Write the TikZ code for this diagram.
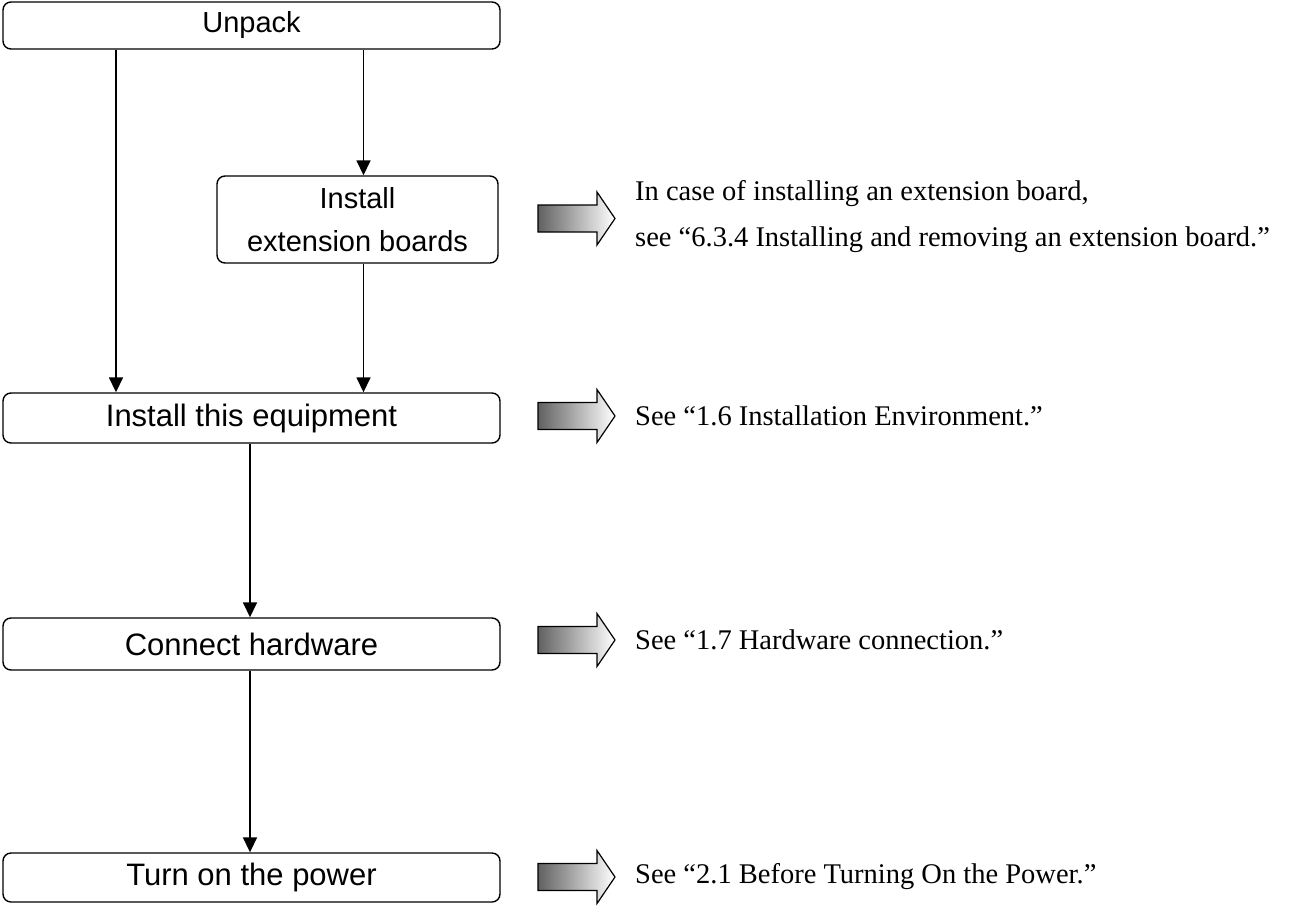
\documentclass[tikz,border=0pt]{standalone}
\usepackage{fontspec}
\setmainfont{Liberation Serif}
\setsansfont{Liberation Sans}
\usetikzlibrary{arrows.meta}
\begin{document}
\begin{tikzpicture}[x=1pt,y=-1pt,
  box/.style={draw, line width=1.4pt, rounded corners=8pt, inner sep=0pt,
    font=\sffamily\fontsize{31}{36}\selectfont, align=center, minimum width=497pt},
  smallfont/.style={font=\sffamily\fontsize{29}{43}\selectfont},
  conn/.style={line width=1.6pt, -{Triangle[length=15pt,width=14pt]}},
  note/.style={anchor=west, inner sep=0pt, font=\fontsize{28.5}{46}\selectfont, align=left},
  bigarrow/.style={draw=black, line width=1.2pt, left color=black!62, right color=white, line join=miter},
  pics/bigarr/.style={code={\path[bigarrow] (0,-13.5) -- (59,-13.5) -- (59,-26.5) -- (77,0) -- (59,26.5) -- (59,13.5) -- (0,13.5) -- cycle;}}
]
\useasboundingbox (0,0) rectangle (1289,905);

\node[box, smallfont, minimum height=47pt] (unpack) at (251.5,25.5) {Unpack};
\node[box, smallfont, minimum width=281pt, minimum height=87pt] (ext) at (357.5,219.5) {Install\\extension boards};
\node[box, minimum height=50pt] (equip) at (251.5,418) {Install this equipment};
\node[box, minimum height=52pt] (hw) at (251.5,644) {Connect hardware};
\node[box, minimum height=49pt] (power) at (251.5,877.5) {Turn on the power};

\draw[conn] ([xshift=-135.5pt]unpack.south) -- ([xshift=-135.5pt]unpack.south |- equip.north);
\draw[conn] ([xshift=6pt]ext.north |- unpack.south) -- ([xshift=6pt]ext.north);
\draw[conn] ([xshift=6pt]ext.south) -- ([xshift=6pt]ext.south |- equip.north);
\draw[conn] ([xshift=-1.5pt]equip.south) -- ([xshift=-1.5pt]equip.south |- hw.north);
\draw[conn] ([xshift=-1.5pt]hw.south) -- ([xshift=-1.5pt]hw.south |- power.north);

\pic at (538,218.5) {bigarr};
\pic at (538,416) {bigarr};
\pic at (538,640) {bigarr};
\pic at (538,877) {bigarr};

\node[note] (n1) at (635,217) {In case of installing an extension board,\\see “6.3.4 Installing and removing an extension board.”};
\node[note] (n2) at (635,416) {See “1.6 Installation Environment.”};
\node[note] (n3) at (635,640) {See “1.7 Hardware connection.”};
\node[note] (n4) at (635,877) {See “2.1 Before Turning On the Power.”};
\end{tikzpicture}
\end{document}
